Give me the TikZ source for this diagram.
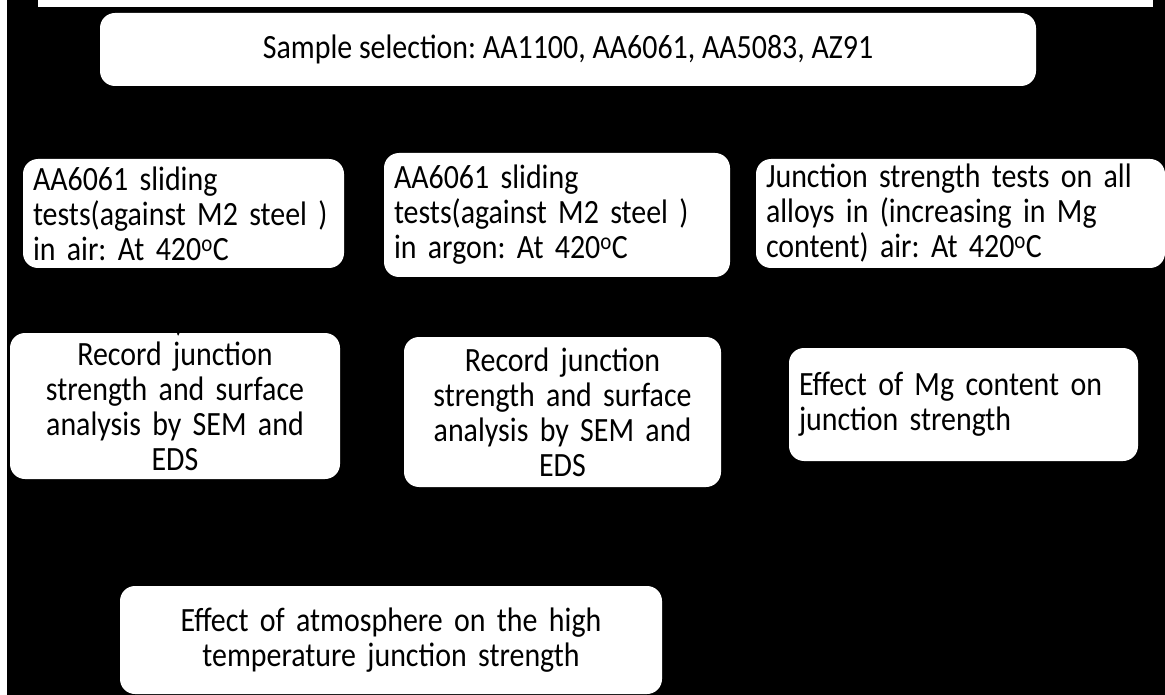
\documentclass[tikz,border=0pt]{standalone}
\usepackage{fontspec}
\setmainfont{Carlito}[FakeStretch=0.88]
\frenchspacing
\usetikzlibrary{arrows.meta}

\begin{document}
\begin{tikzpicture}[x=1pt, y=-1pt,
    flowbox/.style={fill=white, rounded corners=15pt, inner xsep=14pt, inner ysep=0pt,
                    font=\fontsize{34}{35}\selectfont},
    leftbox/.style={flowbox, inner xsep=10pt, align=left}]
    % 背景
    \fill[white] (0,0) rectangle (1165,695);
    \fill[black] (7,0) rectangle (1165,695);
    \fill[white] (38,0) rectangle (1153,7);
    \useasboundingbox (0,0) rectangle (1165,695);

    % 样品选择
    \node[flowbox, minimum width=936pt, minimum height=73pt] (sel) at (568,49.5)
        {Sample selection: AA1100, AA6061, AA5083, AZ91};

    % 试验
    \node[leftbox, minimum width=321pt, minimum height=109pt, text width=301pt] (air) at (183.5,213.5)
        {AA6061 sliding\\tests(against M2 steel )\\in air: At 420\textsuperscript{o}C};
    \node[leftbox, minimum width=346pt, minimum height=124pt, text width=326pt] (argon) at (557,215)
        {AA6061 sliding\\tests(against M2 steel )\\in argon: At 420\textsuperscript{o}C};
    \node[leftbox, minimum width=409pt, minimum height=109pt, text width=389pt] (alloys) at (960.5,213.5)
        {Junction strength tests on all\\alloys in (increasing in Mg\\content) air: At 420\textsuperscript{o}C};

    % 记录与分析
    \node[flowbox, minimum width=330pt, minimum height=146pt, text width=302pt, align=center] (recair) at (175,406)
        {Record junction\\strength and surface\\analysis by SEM and\\EDS};
    \node[flowbox, minimum width=317pt, minimum height=150pt, text width=289pt, align=center] (recargon) at (562.5,412)
        {Record junction\\strength and surface\\analysis by SEM and\\EDS};
    \node[leftbox, minimum width=349pt, minimum height=113pt, text width=329pt] (mgeffect) at (963.5,404.5)
        {Effect of Mg content on\\junction strength};

    % 结论
    \node[flowbox, minimum width=542pt, minimum height=108pt, text width=514pt, align=center] (atmos) at (391,640)
        {Effect of atmosphere on the high\\temperature junction strength};

    % 箭头
    \draw[-{Stealth[length=8pt,width=7pt]}, black, shorten >=-3pt] (air) -- (recair);
\end{tikzpicture}
\end{document}
